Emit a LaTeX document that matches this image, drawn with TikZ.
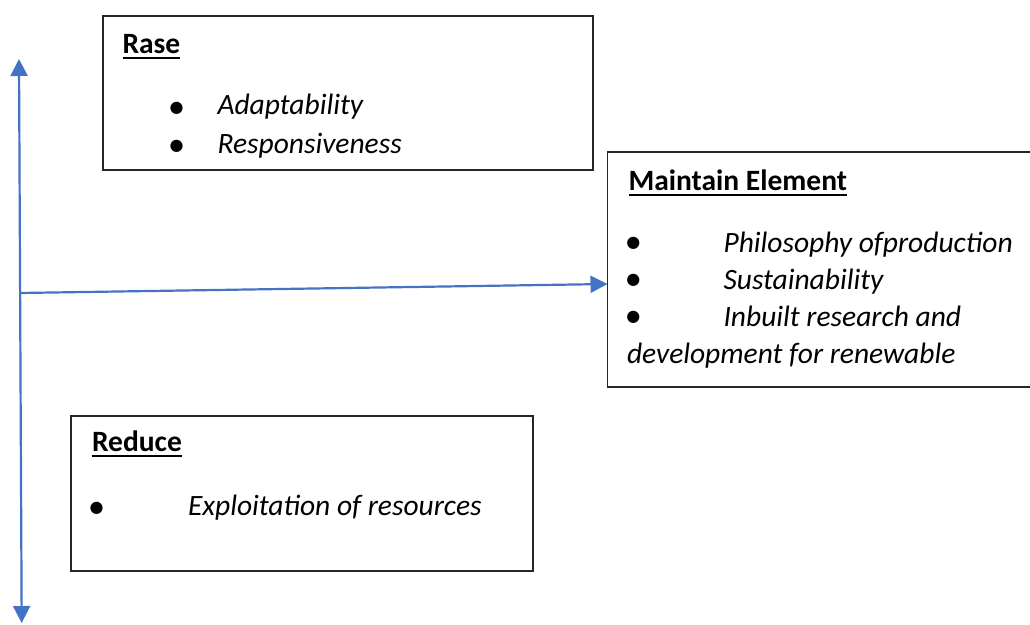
\documentclass[tikz,border=0pt]{standalone}
\usepackage{fontspec}
\setmainfont{Carlito}
\newfontfamily\bulletfont{DejaVu Sans}
\usetikzlibrary{arrows.meta}
\definecolor{axisblue}{HTML}{4472C4}
\definecolor{framegray}{HTML}{262626}
\tikzset{bluetip/.tip={Triangle[length=17pt,width=17pt]}}
\begin{document}
\begin{tikzpicture}[x=1pt,y=-1pt,
  every node/.style={inner sep=0pt,outer sep=0pt},
  frame/.style={draw=framegray,line width=1.4pt,fill=white,anchor=north west},
  heading/.style={anchor=base west,font=\fontsize{29.5}{34}\selectfont\bfseries},
  entry/.style={anchor=base west,font=\fontsize{29.5}{34}\selectfont\itshape},
  % bullets are placed by their centre
  dot/.style={anchor=base,yshift=-6pt,font=\fontsize{16}{18}\bulletfont},
  axis/.style={draw=axisblue,line width=2.2pt},
  rule/.style={line width=2pt,black}]
\useasboundingbox (0,0) rectangle (1030,624);

% frames
\node[frame,minimum width=490pt,minimum height=154pt] (rase) at (103,16) {};
\node[frame,minimum width=428pt,minimum height=235pt] (maint) at (607.5,152) {};
\node[frame,minimum width=462pt,minimum height=155pt] (reduce) at (71,416) {};

% Rase
\node[heading] (raseT) at (122.5,53.5) {Rase};
\draw[rule] ([yshift=-4.7pt]raseT.base west) -- ([yshift=-4.7pt]raseT.base east);
\node[dot] (rb1) at (176.7,106) {●};
\node[entry] (r1) at (217.5,114.5) {Adaptability};
\node[dot] (rb2) at (176.7,144.5) {●};
\node[entry] (r2) at (217.5,153) {Responsiveness};

% Maintain Element
\node[heading] (maintT) at (628.5,190.5) {Maintain Element};
\draw[rule] ([yshift=-4.7pt]maintT.base west) -- ([yshift=-4.7pt]maintT.base east);
\node[dot] (mb1) at (633.3,241.7) {●};
\node[entry] (m1) at (723.5,252.5) {Philosophy ofproduction};
\node[dot] (mb2) at (633.3,278.3) {●};
\node[entry] (m2) at (723.5,289.5) {Sustainability};
\node[dot] (mb3) at (633.3,315) {●};
\node[entry] (m3) at (723.5,326.5) {Inbuilt research and};
\node[entry] (m4) at (627,363.5) {development for renewable};

% Reduce
\node[heading] (redT) at (92,451.7) {Reduce};
\draw[rule] ([yshift=-4.7pt]redT.base west) -- ([yshift=-4.7pt]redT.base east);
\node[dot] (db1) at (96.7,506.7) {●};
\node[entry] (d1) at (188,515.5) {Exploitation of resources};

% axes
\coordinate (up) at (19,59);
\coordinate (down) at (21.7,623);
\coordinate (mid) at (19.5,293);
\coordinate (right) at (maint.west |- 0,284);
\draw[axis,bluetip-bluetip] (down) -- (up);
\draw[axis,-bluetip] (mid) -- (right);
\end{tikzpicture}
\end{document}
